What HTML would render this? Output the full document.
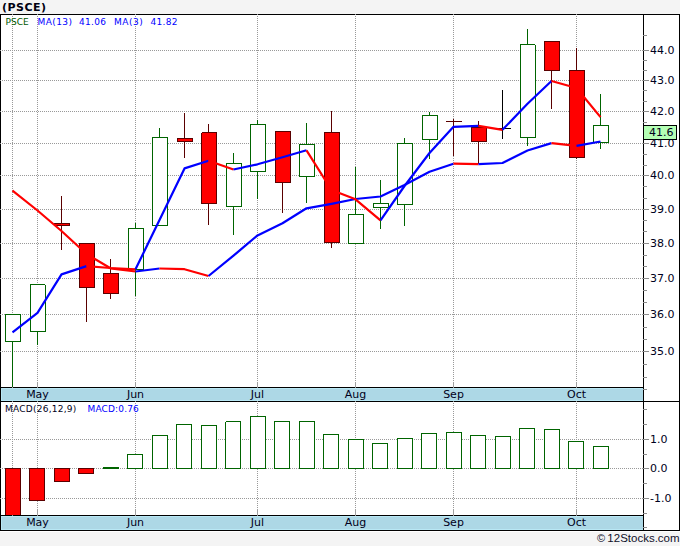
<!DOCTYPE html>
<html><head><meta charset="utf-8"><title>PSCE</title>
<style>
html,body{margin:0;padding:0;background:#f4f4f4;}
body{width:680px;height:546px;overflow:hidden;}
svg{display:block;}
</style></head>
<body>
<svg width="680" height="546" viewBox="0 0 680 546">
<g shape-rendering="crispEdges">
<rect x="0" y="0" width="680" height="546" fill="#f4f4f4"/>
<rect x="0" y="14" width="680" height="518" fill="#ffffff"/>
<rect x="0" y="531" width="680" height="1" fill="#ffffff"/>
<rect x="1" y="388" width="642" height="13" fill="#add8e6"/>
<rect x="1" y="388" width="642" height="1" fill="#b9e8f5"/>
<rect x="1" y="400" width="642" height="1" fill="#b9e8f5"/>
<rect x="1" y="388" width="1" height="13" fill="#b9e8f5"/>
<rect x="1" y="516" width="642" height="14" fill="#add8e6"/>
<rect x="1" y="516" width="642" height="1" fill="#b9e8f5"/>
<rect x="1" y="529" width="642" height="1" fill="#b9e8f5"/>
<rect x="1" y="516" width="1" height="14" fill="#b9e8f5"/>
<rect x="0" y="14" width="680" height="1" fill="#000000"/>
<rect x="0" y="530" width="680" height="1" fill="#000000"/>
<rect x="0" y="14" width="1" height="517" fill="#000000"/>
<rect x="679" y="14" width="1" height="517" fill="#000000"/>
<rect x="643" y="14" width="1" height="517" fill="#000000"/>
<rect x="0" y="387" width="644" height="1" fill="#000000"/>
<rect x="0" y="401" width="680" height="1" fill="#000000"/>
<rect x="0" y="515" width="644" height="1" fill="#000000"/>
<g shape-rendering="crispEdges">
<line x1="0" y1="50.5" x2="643" y2="50.5" stroke="#999999" stroke-width="1" stroke-dasharray="1 1"/>
<line x1="0" y1="80.5" x2="643" y2="80.5" stroke="#999999" stroke-width="1" stroke-dasharray="1 1"/>
<line x1="0" y1="111.5" x2="643" y2="111.5" stroke="#999999" stroke-width="1" stroke-dasharray="1 1"/>
<line x1="0" y1="143.5" x2="643" y2="143.5" stroke="#999999" stroke-width="1" stroke-dasharray="1 1"/>
<line x1="0" y1="175.5" x2="643" y2="175.5" stroke="#999999" stroke-width="1" stroke-dasharray="1 1"/>
<line x1="0" y1="209.5" x2="643" y2="209.5" stroke="#999999" stroke-width="1" stroke-dasharray="1 1"/>
<line x1="0" y1="243.5" x2="643" y2="243.5" stroke="#999999" stroke-width="1" stroke-dasharray="1 1"/>
<line x1="0" y1="278.5" x2="643" y2="278.5" stroke="#999999" stroke-width="1" stroke-dasharray="1 1"/>
<line x1="0" y1="314.5" x2="643" y2="314.5" stroke="#999999" stroke-width="1" stroke-dasharray="1 1"/>
<line x1="0" y1="351.5" x2="643" y2="351.5" stroke="#999999" stroke-width="1" stroke-dasharray="1 1"/>
<line x1="0" y1="439.5" x2="643" y2="439.5" stroke="#999999" stroke-width="1" stroke-dasharray="1 1"/>
<line x1="0" y1="468.5" x2="643" y2="468.5" stroke="#999999" stroke-width="1" stroke-dasharray="1 1"/>
<line x1="0" y1="498.5" x2="643" y2="498.5" stroke="#999999" stroke-width="1" stroke-dasharray="1 1"/>
<line x1="12.5" y1="14" x2="12.5" y2="387" stroke="#999999" stroke-width="1" stroke-dasharray="1 1"/>
<line x1="12.5" y1="401" x2="12.5" y2="515" stroke="#999999" stroke-width="1" stroke-dasharray="1 1"/>
<line x1="37.5" y1="14" x2="37.5" y2="387" stroke="#999999" stroke-width="1" stroke-dasharray="1 1"/>
<line x1="37.5" y1="401" x2="37.5" y2="515" stroke="#999999" stroke-width="1" stroke-dasharray="1 1"/>
<line x1="135.5" y1="14" x2="135.5" y2="387" stroke="#999999" stroke-width="1" stroke-dasharray="1 1"/>
<line x1="135.5" y1="401" x2="135.5" y2="515" stroke="#999999" stroke-width="1" stroke-dasharray="1 1"/>
<line x1="257.5" y1="14" x2="257.5" y2="387" stroke="#999999" stroke-width="1" stroke-dasharray="1 1"/>
<line x1="257.5" y1="401" x2="257.5" y2="515" stroke="#999999" stroke-width="1" stroke-dasharray="1 1"/>
<line x1="355.5" y1="14" x2="355.5" y2="387" stroke="#999999" stroke-width="1" stroke-dasharray="1 1"/>
<line x1="355.5" y1="401" x2="355.5" y2="515" stroke="#999999" stroke-width="1" stroke-dasharray="1 1"/>
<line x1="453.5" y1="14" x2="453.5" y2="387" stroke="#999999" stroke-width="1" stroke-dasharray="1 1"/>
<line x1="453.5" y1="401" x2="453.5" y2="515" stroke="#999999" stroke-width="1" stroke-dasharray="1 1"/>
<line x1="576.5" y1="14" x2="576.5" y2="387" stroke="#999999" stroke-width="1" stroke-dasharray="1 1"/>
<line x1="576.5" y1="401" x2="576.5" y2="515" stroke="#999999" stroke-width="1" stroke-dasharray="1 1"/>
</g>
<rect x="12" y="382" width="1" height="6" fill="#a0a0a0"/>
<rect x="12" y="509" width="1" height="7" fill="#a0a0a0"/>
<rect x="37" y="382" width="1" height="6" fill="#a0a0a0"/>
<rect x="37" y="509" width="1" height="7" fill="#a0a0a0"/>
<rect x="135" y="382" width="1" height="6" fill="#a0a0a0"/>
<rect x="135" y="509" width="1" height="7" fill="#a0a0a0"/>
<rect x="257" y="382" width="1" height="6" fill="#a0a0a0"/>
<rect x="257" y="509" width="1" height="7" fill="#a0a0a0"/>
<rect x="355" y="382" width="1" height="6" fill="#a0a0a0"/>
<rect x="355" y="509" width="1" height="7" fill="#a0a0a0"/>
<rect x="453" y="382" width="1" height="6" fill="#a0a0a0"/>
<rect x="453" y="509" width="1" height="7" fill="#a0a0a0"/>
<rect x="576" y="382" width="1" height="6" fill="#a0a0a0"/>
<rect x="576" y="509" width="1" height="7" fill="#a0a0a0"/>
<rect x="643" y="50" width="6" height="1" fill="#8c8c8c"/>
<rect x="643" y="80" width="6" height="1" fill="#8c8c8c"/>
<rect x="643" y="111" width="6" height="1" fill="#8c8c8c"/>
<rect x="643" y="143" width="6" height="1" fill="#8c8c8c"/>
<rect x="643" y="175" width="6" height="1" fill="#8c8c8c"/>
<rect x="643" y="209" width="6" height="1" fill="#8c8c8c"/>
<rect x="643" y="243" width="6" height="1" fill="#8c8c8c"/>
<rect x="643" y="278" width="6" height="1" fill="#8c8c8c"/>
<rect x="643" y="314" width="6" height="1" fill="#8c8c8c"/>
<rect x="643" y="351" width="6" height="1" fill="#8c8c8c"/>
<rect x="643" y="35" width="4" height="1" fill="#8c8c8c"/>
<rect x="643" y="60" width="4" height="1" fill="#8c8c8c"/>
<rect x="643" y="70" width="4" height="1" fill="#8c8c8c"/>
<rect x="643" y="90" width="4" height="1" fill="#8c8c8c"/>
<rect x="643" y="101" width="4" height="1" fill="#8c8c8c"/>
<rect x="643" y="122" width="4" height="1" fill="#8c8c8c"/>
<rect x="643" y="132" width="4" height="1" fill="#8c8c8c"/>
<rect x="643" y="154" width="4" height="1" fill="#8c8c8c"/>
<rect x="643" y="165" width="4" height="1" fill="#8c8c8c"/>
<rect x="643" y="186" width="4" height="1" fill="#8c8c8c"/>
<rect x="643" y="198" width="4" height="1" fill="#8c8c8c"/>
<rect x="643" y="220" width="4" height="1" fill="#8c8c8c"/>
<rect x="643" y="231" width="4" height="1" fill="#8c8c8c"/>
<rect x="643" y="255" width="4" height="1" fill="#8c8c8c"/>
<rect x="643" y="266" width="4" height="1" fill="#8c8c8c"/>
<rect x="643" y="290" width="4" height="1" fill="#8c8c8c"/>
<rect x="643" y="302" width="4" height="1" fill="#8c8c8c"/>
<rect x="643" y="327" width="4" height="1" fill="#8c8c8c"/>
<rect x="643" y="339" width="4" height="1" fill="#8c8c8c"/>
<rect x="643" y="364" width="4" height="1" fill="#8c8c8c"/>
<rect x="643" y="377" width="4" height="1" fill="#8c8c8c"/>
<rect x="643" y="389" width="4" height="1" fill="#8c8c8c"/>
<rect x="643" y="439" width="6" height="1" fill="#8c8c8c"/>
<rect x="643" y="468" width="6" height="1" fill="#8c8c8c"/>
<rect x="643" y="498" width="6" height="1" fill="#8c8c8c"/>
<rect x="643" y="409" width="4" height="1" fill="#8c8c8c"/>
<rect x="643" y="424" width="4" height="1" fill="#8c8c8c"/>
<rect x="643" y="454" width="4" height="1" fill="#8c8c8c"/>
<rect x="643" y="483" width="4" height="1" fill="#8c8c8c"/>
<rect x="643" y="513" width="4" height="1" fill="#8c8c8c"/>
<rect x="643" y="527" width="4" height="1" fill="#8c8c8c"/>
<rect x="12" y="342" width="1" height="45" fill="#006400"/>
<rect x="5" y="314" width="16" height="28" fill="#ffffff"/>
<rect x="5" y="314" width="16" height="1" fill="#006400"/>
<rect x="5" y="341" width="16" height="1" fill="#006400"/>
<rect x="5" y="314" width="1" height="28" fill="#006400"/>
<rect x="20" y="314" width="1" height="28" fill="#006400"/>
<rect x="37" y="332" width="1" height="13" fill="#006400"/>
<rect x="30" y="284" width="16" height="48" fill="#ffffff"/>
<rect x="30" y="284" width="16" height="1" fill="#006400"/>
<rect x="30" y="331" width="16" height="1" fill="#006400"/>
<rect x="30" y="284" width="1" height="48" fill="#006400"/>
<rect x="45" y="284" width="1" height="48" fill="#006400"/>
<rect x="61" y="196" width="1" height="27" fill="#5a0000"/>
<rect x="61" y="226" width="1" height="24" fill="#5a0000"/>
<rect x="54" y="223" width="16" height="3" fill="#ff0000"/>
<rect x="54" y="223" width="16" height="1" fill="#5a0000"/>
<rect x="54" y="225" width="16" height="1" fill="#5a0000"/>
<rect x="54" y="223" width="1" height="3" fill="#5a0000"/>
<rect x="69" y="223" width="1" height="3" fill="#5a0000"/>
<rect x="86" y="288" width="1" height="34" fill="#5a0000"/>
<rect x="79" y="243" width="16" height="45" fill="#ff0000"/>
<rect x="79" y="243" width="16" height="1" fill="#5a0000"/>
<rect x="79" y="287" width="16" height="1" fill="#5a0000"/>
<rect x="79" y="243" width="1" height="45" fill="#5a0000"/>
<rect x="94" y="243" width="1" height="45" fill="#5a0000"/>
<rect x="110" y="259" width="1" height="14" fill="#5a0000"/>
<rect x="110" y="294" width="1" height="5" fill="#5a0000"/>
<rect x="103" y="273" width="16" height="21" fill="#ff0000"/>
<rect x="103" y="273" width="16" height="1" fill="#5a0000"/>
<rect x="103" y="293" width="16" height="1" fill="#5a0000"/>
<rect x="103" y="273" width="1" height="21" fill="#5a0000"/>
<rect x="118" y="273" width="1" height="21" fill="#5a0000"/>
<rect x="135" y="223" width="1" height="5" fill="#006400"/>
<rect x="135" y="270" width="1" height="26" fill="#006400"/>
<rect x="128" y="228" width="16" height="42" fill="#ffffff"/>
<rect x="128" y="228" width="16" height="1" fill="#006400"/>
<rect x="128" y="269" width="16" height="1" fill="#006400"/>
<rect x="128" y="228" width="1" height="42" fill="#006400"/>
<rect x="143" y="228" width="1" height="42" fill="#006400"/>
<rect x="159" y="128" width="1" height="9" fill="#006400"/>
<rect x="152" y="137" width="16" height="89" fill="#ffffff"/>
<rect x="152" y="137" width="16" height="1" fill="#006400"/>
<rect x="152" y="225" width="16" height="1" fill="#006400"/>
<rect x="152" y="137" width="1" height="89" fill="#006400"/>
<rect x="167" y="137" width="1" height="89" fill="#006400"/>
<rect x="184" y="113" width="1" height="25" fill="#5a0000"/>
<rect x="184" y="142" width="1" height="16" fill="#5a0000"/>
<rect x="177" y="138" width="16" height="4" fill="#ff0000"/>
<rect x="177" y="138" width="16" height="1" fill="#5a0000"/>
<rect x="177" y="141" width="16" height="1" fill="#5a0000"/>
<rect x="177" y="138" width="1" height="4" fill="#5a0000"/>
<rect x="192" y="138" width="1" height="4" fill="#5a0000"/>
<rect x="208" y="124" width="1" height="8" fill="#5a0000"/>
<rect x="208" y="204" width="1" height="21" fill="#5a0000"/>
<rect x="201" y="132" width="16" height="72" fill="#ff0000"/>
<rect x="201" y="132" width="16" height="1" fill="#5a0000"/>
<rect x="201" y="203" width="16" height="1" fill="#5a0000"/>
<rect x="201" y="132" width="1" height="72" fill="#5a0000"/>
<rect x="216" y="132" width="1" height="72" fill="#5a0000"/>
<rect x="233" y="153" width="1" height="10" fill="#006400"/>
<rect x="233" y="207" width="1" height="28" fill="#006400"/>
<rect x="226" y="163" width="16" height="44" fill="#ffffff"/>
<rect x="226" y="163" width="16" height="1" fill="#006400"/>
<rect x="226" y="206" width="16" height="1" fill="#006400"/>
<rect x="226" y="163" width="1" height="44" fill="#006400"/>
<rect x="241" y="163" width="1" height="44" fill="#006400"/>
<rect x="257" y="120" width="1" height="4" fill="#006400"/>
<rect x="257" y="172" width="1" height="27" fill="#006400"/>
<rect x="250" y="124" width="16" height="48" fill="#ffffff"/>
<rect x="250" y="124" width="16" height="1" fill="#006400"/>
<rect x="250" y="171" width="16" height="1" fill="#006400"/>
<rect x="250" y="124" width="1" height="48" fill="#006400"/>
<rect x="265" y="124" width="1" height="48" fill="#006400"/>
<rect x="282" y="183" width="1" height="30" fill="#5a0000"/>
<rect x="275" y="131" width="16" height="52" fill="#ff0000"/>
<rect x="275" y="131" width="16" height="1" fill="#5a0000"/>
<rect x="275" y="182" width="16" height="1" fill="#5a0000"/>
<rect x="275" y="131" width="1" height="52" fill="#5a0000"/>
<rect x="290" y="131" width="1" height="52" fill="#5a0000"/>
<rect x="306" y="123" width="1" height="21" fill="#006400"/>
<rect x="306" y="177" width="1" height="26" fill="#006400"/>
<rect x="299" y="144" width="16" height="33" fill="#ffffff"/>
<rect x="299" y="144" width="16" height="1" fill="#006400"/>
<rect x="299" y="176" width="16" height="1" fill="#006400"/>
<rect x="299" y="144" width="1" height="33" fill="#006400"/>
<rect x="314" y="144" width="1" height="33" fill="#006400"/>
<rect x="331" y="111" width="1" height="21" fill="#5a0000"/>
<rect x="331" y="243" width="1" height="5" fill="#5a0000"/>
<rect x="324" y="132" width="16" height="111" fill="#ff0000"/>
<rect x="324" y="132" width="16" height="1" fill="#5a0000"/>
<rect x="324" y="242" width="16" height="1" fill="#5a0000"/>
<rect x="324" y="132" width="1" height="111" fill="#5a0000"/>
<rect x="339" y="132" width="1" height="111" fill="#5a0000"/>
<rect x="355" y="167" width="1" height="47" fill="#006400"/>
<rect x="348" y="214" width="16" height="30" fill="#ffffff"/>
<rect x="348" y="214" width="16" height="1" fill="#006400"/>
<rect x="348" y="243" width="16" height="1" fill="#006400"/>
<rect x="348" y="214" width="1" height="30" fill="#006400"/>
<rect x="363" y="214" width="1" height="30" fill="#006400"/>
<rect x="380" y="180" width="1" height="23" fill="#006400"/>
<rect x="380" y="208" width="1" height="21" fill="#006400"/>
<rect x="373" y="203" width="16" height="5" fill="#ffffff"/>
<rect x="373" y="203" width="16" height="1" fill="#006400"/>
<rect x="373" y="207" width="16" height="1" fill="#006400"/>
<rect x="373" y="203" width="1" height="5" fill="#006400"/>
<rect x="388" y="203" width="1" height="5" fill="#006400"/>
<rect x="404" y="138" width="1" height="5" fill="#006400"/>
<rect x="404" y="205" width="1" height="21" fill="#006400"/>
<rect x="397" y="143" width="16" height="62" fill="#ffffff"/>
<rect x="397" y="143" width="16" height="1" fill="#006400"/>
<rect x="397" y="204" width="16" height="1" fill="#006400"/>
<rect x="397" y="143" width="1" height="62" fill="#006400"/>
<rect x="412" y="143" width="1" height="62" fill="#006400"/>
<rect x="429" y="112" width="1" height="3" fill="#006400"/>
<rect x="429" y="140" width="1" height="19" fill="#006400"/>
<rect x="422" y="115" width="16" height="25" fill="#ffffff"/>
<rect x="422" y="115" width="16" height="1" fill="#006400"/>
<rect x="422" y="139" width="16" height="1" fill="#006400"/>
<rect x="422" y="115" width="1" height="25" fill="#006400"/>
<rect x="437" y="115" width="1" height="25" fill="#006400"/>
<rect x="453" y="119" width="1" height="2" fill="#5a0000"/>
<rect x="453" y="122" width="1" height="34" fill="#5a0000"/>
<rect x="446" y="121" width="16" height="1" fill="#5a0000"/>
<rect x="478" y="121" width="1" height="6" fill="#5a0000"/>
<rect x="478" y="142" width="1" height="22" fill="#5a0000"/>
<rect x="471" y="127" width="16" height="15" fill="#ff0000"/>
<rect x="471" y="127" width="16" height="1" fill="#5a0000"/>
<rect x="471" y="141" width="16" height="1" fill="#5a0000"/>
<rect x="471" y="127" width="1" height="15" fill="#5a0000"/>
<rect x="486" y="127" width="1" height="15" fill="#5a0000"/>
<rect x="502" y="90" width="1" height="38" fill="#000000"/>
<rect x="502" y="129" width="1" height="10" fill="#000000"/>
<rect x="495" y="128" width="16" height="1" fill="#000000"/>
<rect x="527" y="29" width="1" height="15" fill="#006400"/>
<rect x="527" y="138" width="1" height="8" fill="#006400"/>
<rect x="520" y="44" width="16" height="94" fill="#ffffff"/>
<rect x="520" y="44" width="16" height="1" fill="#006400"/>
<rect x="520" y="137" width="16" height="1" fill="#006400"/>
<rect x="520" y="44" width="1" height="94" fill="#006400"/>
<rect x="535" y="44" width="1" height="94" fill="#006400"/>
<rect x="551" y="71" width="1" height="38" fill="#5a0000"/>
<rect x="544" y="41" width="16" height="30" fill="#ff0000"/>
<rect x="544" y="41" width="16" height="1" fill="#5a0000"/>
<rect x="544" y="70" width="16" height="1" fill="#5a0000"/>
<rect x="544" y="41" width="1" height="30" fill="#5a0000"/>
<rect x="559" y="41" width="1" height="30" fill="#5a0000"/>
<rect x="576" y="48" width="1" height="22" fill="#5a0000"/>
<rect x="576" y="158" width="1" height="1" fill="#5a0000"/>
<rect x="569" y="70" width="16" height="88" fill="#ff0000"/>
<rect x="569" y="70" width="16" height="1" fill="#5a0000"/>
<rect x="569" y="157" width="16" height="1" fill="#5a0000"/>
<rect x="569" y="70" width="1" height="88" fill="#5a0000"/>
<rect x="584" y="70" width="1" height="88" fill="#5a0000"/>
<rect x="600" y="94" width="1" height="31" fill="#006400"/>
<rect x="600" y="143" width="1" height="6" fill="#006400"/>
<rect x="593" y="125" width="16" height="18" fill="#ffffff"/>
<rect x="593" y="125" width="16" height="1" fill="#006400"/>
<rect x="593" y="142" width="16" height="1" fill="#006400"/>
<rect x="593" y="125" width="1" height="18" fill="#006400"/>
<rect x="608" y="125" width="1" height="18" fill="#006400"/>
<rect x="5" y="468" width="16" height="47" fill="#ff0000"/>
<rect x="5" y="468" width="16" height="1" fill="#5a0000"/>
<rect x="5" y="468" width="1" height="47" fill="#5a0000"/>
<rect x="20" y="468" width="1" height="47" fill="#5a0000"/>
<rect x="29" y="468" width="16" height="33" fill="#ff0000"/>
<rect x="29" y="468" width="16" height="1" fill="#5a0000"/>
<rect x="29" y="500" width="16" height="1" fill="#5a0000"/>
<rect x="29" y="468" width="1" height="33" fill="#5a0000"/>
<rect x="44" y="468" width="1" height="33" fill="#5a0000"/>
<rect x="54" y="468" width="16" height="14" fill="#ff0000"/>
<rect x="54" y="468" width="16" height="1" fill="#5a0000"/>
<rect x="54" y="481" width="16" height="1" fill="#5a0000"/>
<rect x="54" y="468" width="1" height="14" fill="#5a0000"/>
<rect x="69" y="468" width="1" height="14" fill="#5a0000"/>
<rect x="78" y="468" width="16" height="6" fill="#ff0000"/>
<rect x="78" y="468" width="16" height="1" fill="#5a0000"/>
<rect x="78" y="473" width="16" height="1" fill="#5a0000"/>
<rect x="78" y="468" width="1" height="6" fill="#5a0000"/>
<rect x="93" y="468" width="1" height="6" fill="#5a0000"/>
<rect x="103" y="467" width="16" height="2" fill="#006400"/>
<rect x="127" y="454" width="16" height="15" fill="#ffffff"/>
<rect x="127" y="454" width="16" height="1" fill="#006400"/>
<rect x="127" y="468" width="16" height="1" fill="#006400"/>
<rect x="127" y="454" width="1" height="15" fill="#006400"/>
<rect x="142" y="454" width="1" height="15" fill="#006400"/>
<rect x="152" y="435" width="16" height="34" fill="#ffffff"/>
<rect x="152" y="435" width="16" height="1" fill="#006400"/>
<rect x="152" y="468" width="16" height="1" fill="#006400"/>
<rect x="152" y="435" width="1" height="34" fill="#006400"/>
<rect x="167" y="435" width="1" height="34" fill="#006400"/>
<rect x="176" y="424" width="16" height="45" fill="#ffffff"/>
<rect x="176" y="424" width="16" height="1" fill="#006400"/>
<rect x="176" y="468" width="16" height="1" fill="#006400"/>
<rect x="176" y="424" width="1" height="45" fill="#006400"/>
<rect x="191" y="424" width="1" height="45" fill="#006400"/>
<rect x="201" y="425" width="16" height="44" fill="#ffffff"/>
<rect x="201" y="425" width="16" height="1" fill="#006400"/>
<rect x="201" y="468" width="16" height="1" fill="#006400"/>
<rect x="201" y="425" width="1" height="44" fill="#006400"/>
<rect x="216" y="425" width="1" height="44" fill="#006400"/>
<rect x="225" y="421" width="16" height="48" fill="#ffffff"/>
<rect x="225" y="421" width="16" height="1" fill="#006400"/>
<rect x="225" y="468" width="16" height="1" fill="#006400"/>
<rect x="225" y="421" width="1" height="48" fill="#006400"/>
<rect x="240" y="421" width="1" height="48" fill="#006400"/>
<rect x="250" y="416" width="16" height="53" fill="#ffffff"/>
<rect x="250" y="416" width="16" height="1" fill="#006400"/>
<rect x="250" y="468" width="16" height="1" fill="#006400"/>
<rect x="250" y="416" width="1" height="53" fill="#006400"/>
<rect x="265" y="416" width="1" height="53" fill="#006400"/>
<rect x="274" y="421" width="16" height="48" fill="#ffffff"/>
<rect x="274" y="421" width="16" height="1" fill="#006400"/>
<rect x="274" y="468" width="16" height="1" fill="#006400"/>
<rect x="274" y="421" width="1" height="48" fill="#006400"/>
<rect x="289" y="421" width="1" height="48" fill="#006400"/>
<rect x="299" y="421" width="16" height="48" fill="#ffffff"/>
<rect x="299" y="421" width="16" height="1" fill="#006400"/>
<rect x="299" y="468" width="16" height="1" fill="#006400"/>
<rect x="299" y="421" width="1" height="48" fill="#006400"/>
<rect x="314" y="421" width="1" height="48" fill="#006400"/>
<rect x="323" y="434" width="16" height="35" fill="#ffffff"/>
<rect x="323" y="434" width="16" height="1" fill="#006400"/>
<rect x="323" y="468" width="16" height="1" fill="#006400"/>
<rect x="323" y="434" width="1" height="35" fill="#006400"/>
<rect x="338" y="434" width="1" height="35" fill="#006400"/>
<rect x="348" y="439" width="16" height="30" fill="#ffffff"/>
<rect x="348" y="439" width="16" height="1" fill="#006400"/>
<rect x="348" y="468" width="16" height="1" fill="#006400"/>
<rect x="348" y="439" width="1" height="30" fill="#006400"/>
<rect x="363" y="439" width="1" height="30" fill="#006400"/>
<rect x="372" y="443" width="16" height="26" fill="#ffffff"/>
<rect x="372" y="443" width="16" height="1" fill="#006400"/>
<rect x="372" y="468" width="16" height="1" fill="#006400"/>
<rect x="372" y="443" width="1" height="26" fill="#006400"/>
<rect x="387" y="443" width="1" height="26" fill="#006400"/>
<rect x="397" y="438" width="16" height="31" fill="#ffffff"/>
<rect x="397" y="438" width="16" height="1" fill="#006400"/>
<rect x="397" y="468" width="16" height="1" fill="#006400"/>
<rect x="397" y="438" width="1" height="31" fill="#006400"/>
<rect x="412" y="438" width="1" height="31" fill="#006400"/>
<rect x="421" y="433" width="16" height="36" fill="#ffffff"/>
<rect x="421" y="433" width="16" height="1" fill="#006400"/>
<rect x="421" y="468" width="16" height="1" fill="#006400"/>
<rect x="421" y="433" width="1" height="36" fill="#006400"/>
<rect x="436" y="433" width="1" height="36" fill="#006400"/>
<rect x="446" y="432" width="16" height="37" fill="#ffffff"/>
<rect x="446" y="432" width="16" height="1" fill="#006400"/>
<rect x="446" y="468" width="16" height="1" fill="#006400"/>
<rect x="446" y="432" width="1" height="37" fill="#006400"/>
<rect x="461" y="432" width="1" height="37" fill="#006400"/>
<rect x="470" y="435" width="16" height="34" fill="#ffffff"/>
<rect x="470" y="435" width="16" height="1" fill="#006400"/>
<rect x="470" y="468" width="16" height="1" fill="#006400"/>
<rect x="470" y="435" width="1" height="34" fill="#006400"/>
<rect x="485" y="435" width="1" height="34" fill="#006400"/>
<rect x="495" y="436" width="16" height="33" fill="#ffffff"/>
<rect x="495" y="436" width="16" height="1" fill="#006400"/>
<rect x="495" y="468" width="16" height="1" fill="#006400"/>
<rect x="495" y="436" width="1" height="33" fill="#006400"/>
<rect x="510" y="436" width="1" height="33" fill="#006400"/>
<rect x="519" y="428" width="16" height="41" fill="#ffffff"/>
<rect x="519" y="428" width="16" height="1" fill="#006400"/>
<rect x="519" y="468" width="16" height="1" fill="#006400"/>
<rect x="519" y="428" width="1" height="41" fill="#006400"/>
<rect x="534" y="428" width="1" height="41" fill="#006400"/>
<rect x="544" y="429" width="16" height="40" fill="#ffffff"/>
<rect x="544" y="429" width="16" height="1" fill="#006400"/>
<rect x="544" y="468" width="16" height="1" fill="#006400"/>
<rect x="544" y="429" width="1" height="40" fill="#006400"/>
<rect x="559" y="429" width="1" height="40" fill="#006400"/>
<rect x="568" y="441" width="16" height="28" fill="#ffffff"/>
<rect x="568" y="441" width="16" height="1" fill="#006400"/>
<rect x="568" y="468" width="16" height="1" fill="#006400"/>
<rect x="568" y="441" width="1" height="28" fill="#006400"/>
<rect x="583" y="441" width="1" height="28" fill="#006400"/>
<rect x="593" y="446" width="16" height="23" fill="#ffffff"/>
<rect x="593" y="446" width="16" height="1" fill="#006400"/>
<rect x="593" y="468" width="16" height="1" fill="#006400"/>
<rect x="593" y="446" width="1" height="23" fill="#006400"/>
<rect x="608" y="446" width="1" height="23" fill="#006400"/>
<rect x="45" y="284" width="1" height="1" fill="#ffffff"/>
<rect x="201" y="132" width="1" height="1" fill="#ffffff"/>
<rect x="535" y="44" width="1" height="1" fill="#ffffff"/>
<rect x="225" y="421" width="1" height="1" fill="#ffffff"/>
<g shape-rendering="geometricPrecision">
<polyline points="12.5,190.6 37.5,210.5 61.5,231.0 86.5,254.0 110.5,268.3 135.5,271.5" fill="none" stroke="#ff0000" stroke-width="2.2" stroke-linejoin="round" stroke-linecap="butt"/>
<polyline points="135.5,271.5 159.5,268.5" fill="none" stroke="#0000ff" stroke-width="2.2" stroke-linejoin="round" stroke-linecap="butt"/>
<polyline points="159.5,268.5 184.5,269.2 208.5,276.0" fill="none" stroke="#ff0000" stroke-width="2.2" stroke-linejoin="round" stroke-linecap="butt"/>
<polyline points="208.5,276.0 233.5,255.7 257.5,235.4 282.5,223.3 306.5,208.3 331.5,203.8 355.5,199.0 380.5,196.5 404.5,185.0 429.5,171.8 453.5,163.7" fill="none" stroke="#0000ff" stroke-width="2.2" stroke-linejoin="round" stroke-linecap="butt"/>
<polyline points="453.5,163.7 478.5,164.2" fill="none" stroke="#ff0000" stroke-width="2.2" stroke-linejoin="round" stroke-linecap="butt"/>
<polyline points="478.5,164.2 502.5,163.0 527.5,150.5 551.5,143.1" fill="none" stroke="#0000ff" stroke-width="2.2" stroke-linejoin="round" stroke-linecap="butt"/>
<polyline points="551.5,143.1 576.5,145.9" fill="none" stroke="#ff0000" stroke-width="2.2" stroke-linejoin="round" stroke-linecap="butt"/>
<polyline points="576.5,145.9 600.5,141.5" fill="none" stroke="#0000ff" stroke-width="2.2" stroke-linejoin="round" stroke-linecap="butt"/>
<polyline points="12.5,332.3 37.5,312.8 61.5,274.4 86.5,266.1" fill="none" stroke="#0000ff" stroke-width="2.2" stroke-linejoin="round" stroke-linecap="butt"/>
<polyline points="86.5,266.1 110.5,268.0 135.5,269.3" fill="none" stroke="#ff0000" stroke-width="2.2" stroke-linejoin="round" stroke-linecap="butt"/>
<polyline points="135.5,269.3 159.5,220.0 184.5,168.4 208.5,160.8" fill="none" stroke="#0000ff" stroke-width="2.2" stroke-linejoin="round" stroke-linecap="butt"/>
<polyline points="208.5,160.8 233.5,169.5" fill="none" stroke="#ff0000" stroke-width="2.2" stroke-linejoin="round" stroke-linecap="butt"/>
<polyline points="233.5,169.5 257.5,164.3 282.5,157.2 306.5,150.3" fill="none" stroke="#0000ff" stroke-width="2.2" stroke-linejoin="round" stroke-linecap="butt"/>
<polyline points="306.5,150.3 331.5,190.0 355.5,199.3 380.5,220.4" fill="none" stroke="#ff0000" stroke-width="2.2" stroke-linejoin="round" stroke-linecap="butt"/>
<polyline points="380.5,220.4 404.5,186.0 429.5,153.0 453.5,126.8 478.5,125.8" fill="none" stroke="#0000ff" stroke-width="2.2" stroke-linejoin="round" stroke-linecap="butt"/>
<polyline points="478.5,125.8 502.5,129.8" fill="none" stroke="#ff0000" stroke-width="2.2" stroke-linejoin="round" stroke-linecap="butt"/>
<polyline points="502.5,129.8 527.5,103.8 551.5,81.0" fill="none" stroke="#0000ff" stroke-width="2.2" stroke-linejoin="round" stroke-linecap="butt"/>
<polyline points="551.5,81.0 576.5,88.0 600.5,117.1" fill="none" stroke="#ff0000" stroke-width="2.2" stroke-linejoin="round" stroke-linecap="butt"/>
</g>
</g>
<rect x="643" y="125" width="34" height="15" fill="#b4ffb4"/>
<rect x="643" y="125" width="34" height="1" fill="#000"/>
<rect x="643" y="139" width="34" height="1" fill="#000"/>
<rect x="676" y="125" width="1" height="15" fill="#000"/>
<rect x="643" y="125" width="1" height="15" fill="#000"/>
<text x="2" y="11" style="font-family:'DejaVu Sans',Verdana,sans-serif;font-size:11px;font-weight:bold;letter-spacing:0.5px" fill="#000010" text-anchor="start">(PSCE)</text>
<text x="5.5" y="25" style="font-family:'DejaVu Sans',Verdana,sans-serif;font-size:9px;font-weight:normal;letter-spacing:0px" fill="#005800" text-anchor="start">PSCE</text>
<text x="37.5" y="25" style="font-family:'DejaVu Sans',Verdana,sans-serif;font-size:9px;font-weight:normal;letter-spacing:0.4px" fill="#0000ff" text-anchor="start">MA(13)</text>
<text x="79" y="25" style="font-family:'DejaVu Sans',Verdana,sans-serif;font-size:9px;font-weight:normal;letter-spacing:0.3px" fill="#0000ff" text-anchor="start">41.06</text>
<text x="114" y="25" style="font-family:'DejaVu Sans',Verdana,sans-serif;font-size:9px;font-weight:normal;letter-spacing:0.5px" fill="#0000ff" text-anchor="start">MA(3)</text>
<text x="150.5" y="25" style="font-family:'DejaVu Sans',Verdana,sans-serif;font-size:9px;font-weight:normal;letter-spacing:0.3px" fill="#0000ff" text-anchor="start">41.82</text>
<text x="650" y="54" style="font-family:'DejaVu Sans',Verdana,sans-serif;font-size:11px;font-weight:normal;letter-spacing:0px" fill="#000020" text-anchor="start">44.0</text>
<text x="650" y="84" style="font-family:'DejaVu Sans',Verdana,sans-serif;font-size:11px;font-weight:normal;letter-spacing:0px" fill="#000020" text-anchor="start">43.0</text>
<text x="650" y="115" style="font-family:'DejaVu Sans',Verdana,sans-serif;font-size:11px;font-weight:normal;letter-spacing:0px" fill="#000020" text-anchor="start">42.0</text>
<text x="650" y="147" style="font-family:'DejaVu Sans',Verdana,sans-serif;font-size:11px;font-weight:normal;letter-spacing:0px" fill="#000020" text-anchor="start">41.0</text>
<text x="650" y="179" style="font-family:'DejaVu Sans',Verdana,sans-serif;font-size:11px;font-weight:normal;letter-spacing:0px" fill="#000020" text-anchor="start">40.0</text>
<text x="650" y="213" style="font-family:'DejaVu Sans',Verdana,sans-serif;font-size:11px;font-weight:normal;letter-spacing:0px" fill="#000020" text-anchor="start">39.0</text>
<text x="650" y="247" style="font-family:'DejaVu Sans',Verdana,sans-serif;font-size:11px;font-weight:normal;letter-spacing:0px" fill="#000020" text-anchor="start">38.0</text>
<text x="650" y="282" style="font-family:'DejaVu Sans',Verdana,sans-serif;font-size:11px;font-weight:normal;letter-spacing:0px" fill="#000020" text-anchor="start">37.0</text>
<text x="650" y="318" style="font-family:'DejaVu Sans',Verdana,sans-serif;font-size:11px;font-weight:normal;letter-spacing:0px" fill="#000020" text-anchor="start">36.0</text>
<text x="650" y="355" style="font-family:'DejaVu Sans',Verdana,sans-serif;font-size:11px;font-weight:normal;letter-spacing:0px" fill="#000020" text-anchor="start">35.0</text>
<text x="5" y="412" style="font-family:'DejaVu Sans',Verdana,sans-serif;font-size:9px;font-weight:normal;letter-spacing:0.25px" fill="#000020" text-anchor="start">MACD(26,12,9)</text>
<text x="87.5" y="412" style="font-family:'DejaVu Sans',Verdana,sans-serif;font-size:9px;font-weight:normal;letter-spacing:0.15px" fill="#0000ff" text-anchor="start">MACD:0.76</text>
<text x="650" y="443" style="font-family:'DejaVu Sans',Verdana,sans-serif;font-size:11px;font-weight:normal;letter-spacing:0px" fill="#000020" text-anchor="start">1.0</text>
<text x="650" y="472" style="font-family:'DejaVu Sans',Verdana,sans-serif;font-size:11px;font-weight:normal;letter-spacing:0px" fill="#000020" text-anchor="start">0.0</text>
<text x="650" y="502" style="font-family:'DejaVu Sans',Verdana,sans-serif;font-size:11px;font-weight:normal;letter-spacing:0px" fill="#000020" text-anchor="start">-1.0</text>
<text x="37.5" y="398" style="font-family:'DejaVu Sans',Verdana,sans-serif;font-size:11px;font-weight:normal;letter-spacing:0px" fill="#000020" text-anchor="middle">May</text>
<text x="37.5" y="526" style="font-family:'DejaVu Sans',Verdana,sans-serif;font-size:11px;font-weight:normal;letter-spacing:0px" fill="#000020" text-anchor="middle">May</text>
<text x="135.5" y="398" style="font-family:'DejaVu Sans',Verdana,sans-serif;font-size:11px;font-weight:normal;letter-spacing:0px" fill="#000020" text-anchor="middle">Jun</text>
<text x="135.5" y="526" style="font-family:'DejaVu Sans',Verdana,sans-serif;font-size:11px;font-weight:normal;letter-spacing:0px" fill="#000020" text-anchor="middle">Jun</text>
<text x="257.5" y="398" style="font-family:'DejaVu Sans',Verdana,sans-serif;font-size:11px;font-weight:normal;letter-spacing:0px" fill="#000020" text-anchor="middle">Jul</text>
<text x="257.5" y="526" style="font-family:'DejaVu Sans',Verdana,sans-serif;font-size:11px;font-weight:normal;letter-spacing:0px" fill="#000020" text-anchor="middle">Jul</text>
<text x="355.5" y="398" style="font-family:'DejaVu Sans',Verdana,sans-serif;font-size:11px;font-weight:normal;letter-spacing:0px" fill="#000020" text-anchor="middle">Aug</text>
<text x="355.5" y="526" style="font-family:'DejaVu Sans',Verdana,sans-serif;font-size:11px;font-weight:normal;letter-spacing:0px" fill="#000020" text-anchor="middle">Aug</text>
<text x="453.5" y="398" style="font-family:'DejaVu Sans',Verdana,sans-serif;font-size:11px;font-weight:normal;letter-spacing:0px" fill="#000020" text-anchor="middle">Sep</text>
<text x="453.5" y="526" style="font-family:'DejaVu Sans',Verdana,sans-serif;font-size:11px;font-weight:normal;letter-spacing:0px" fill="#000020" text-anchor="middle">Sep</text>
<text x="576.5" y="398" style="font-family:'DejaVu Sans',Verdana,sans-serif;font-size:11px;font-weight:normal;letter-spacing:0px" fill="#000020" text-anchor="middle">Oct</text>
<text x="576.5" y="526" style="font-family:'DejaVu Sans',Verdana,sans-serif;font-size:11px;font-weight:normal;letter-spacing:0px" fill="#000020" text-anchor="middle">Oct</text>
<text x="597" y="542" style="font-family:'Liberation Sans',Arial,sans-serif;font-size:11px" fill="#10102a">&#169;</text>
<text x="679.6" y="542" style="font-family:'Liberation Sans',Arial,sans-serif;font-size:11.5px;font-weight:normal;letter-spacing:0px" fill="#10102a" text-anchor="end">12Stocks.com</text>
<text x="649" y="136" style="font-family:'DejaVu Sans',Verdana,sans-serif;font-size:11px" fill="#000020">41.6</text>
</svg>
</body></html>
